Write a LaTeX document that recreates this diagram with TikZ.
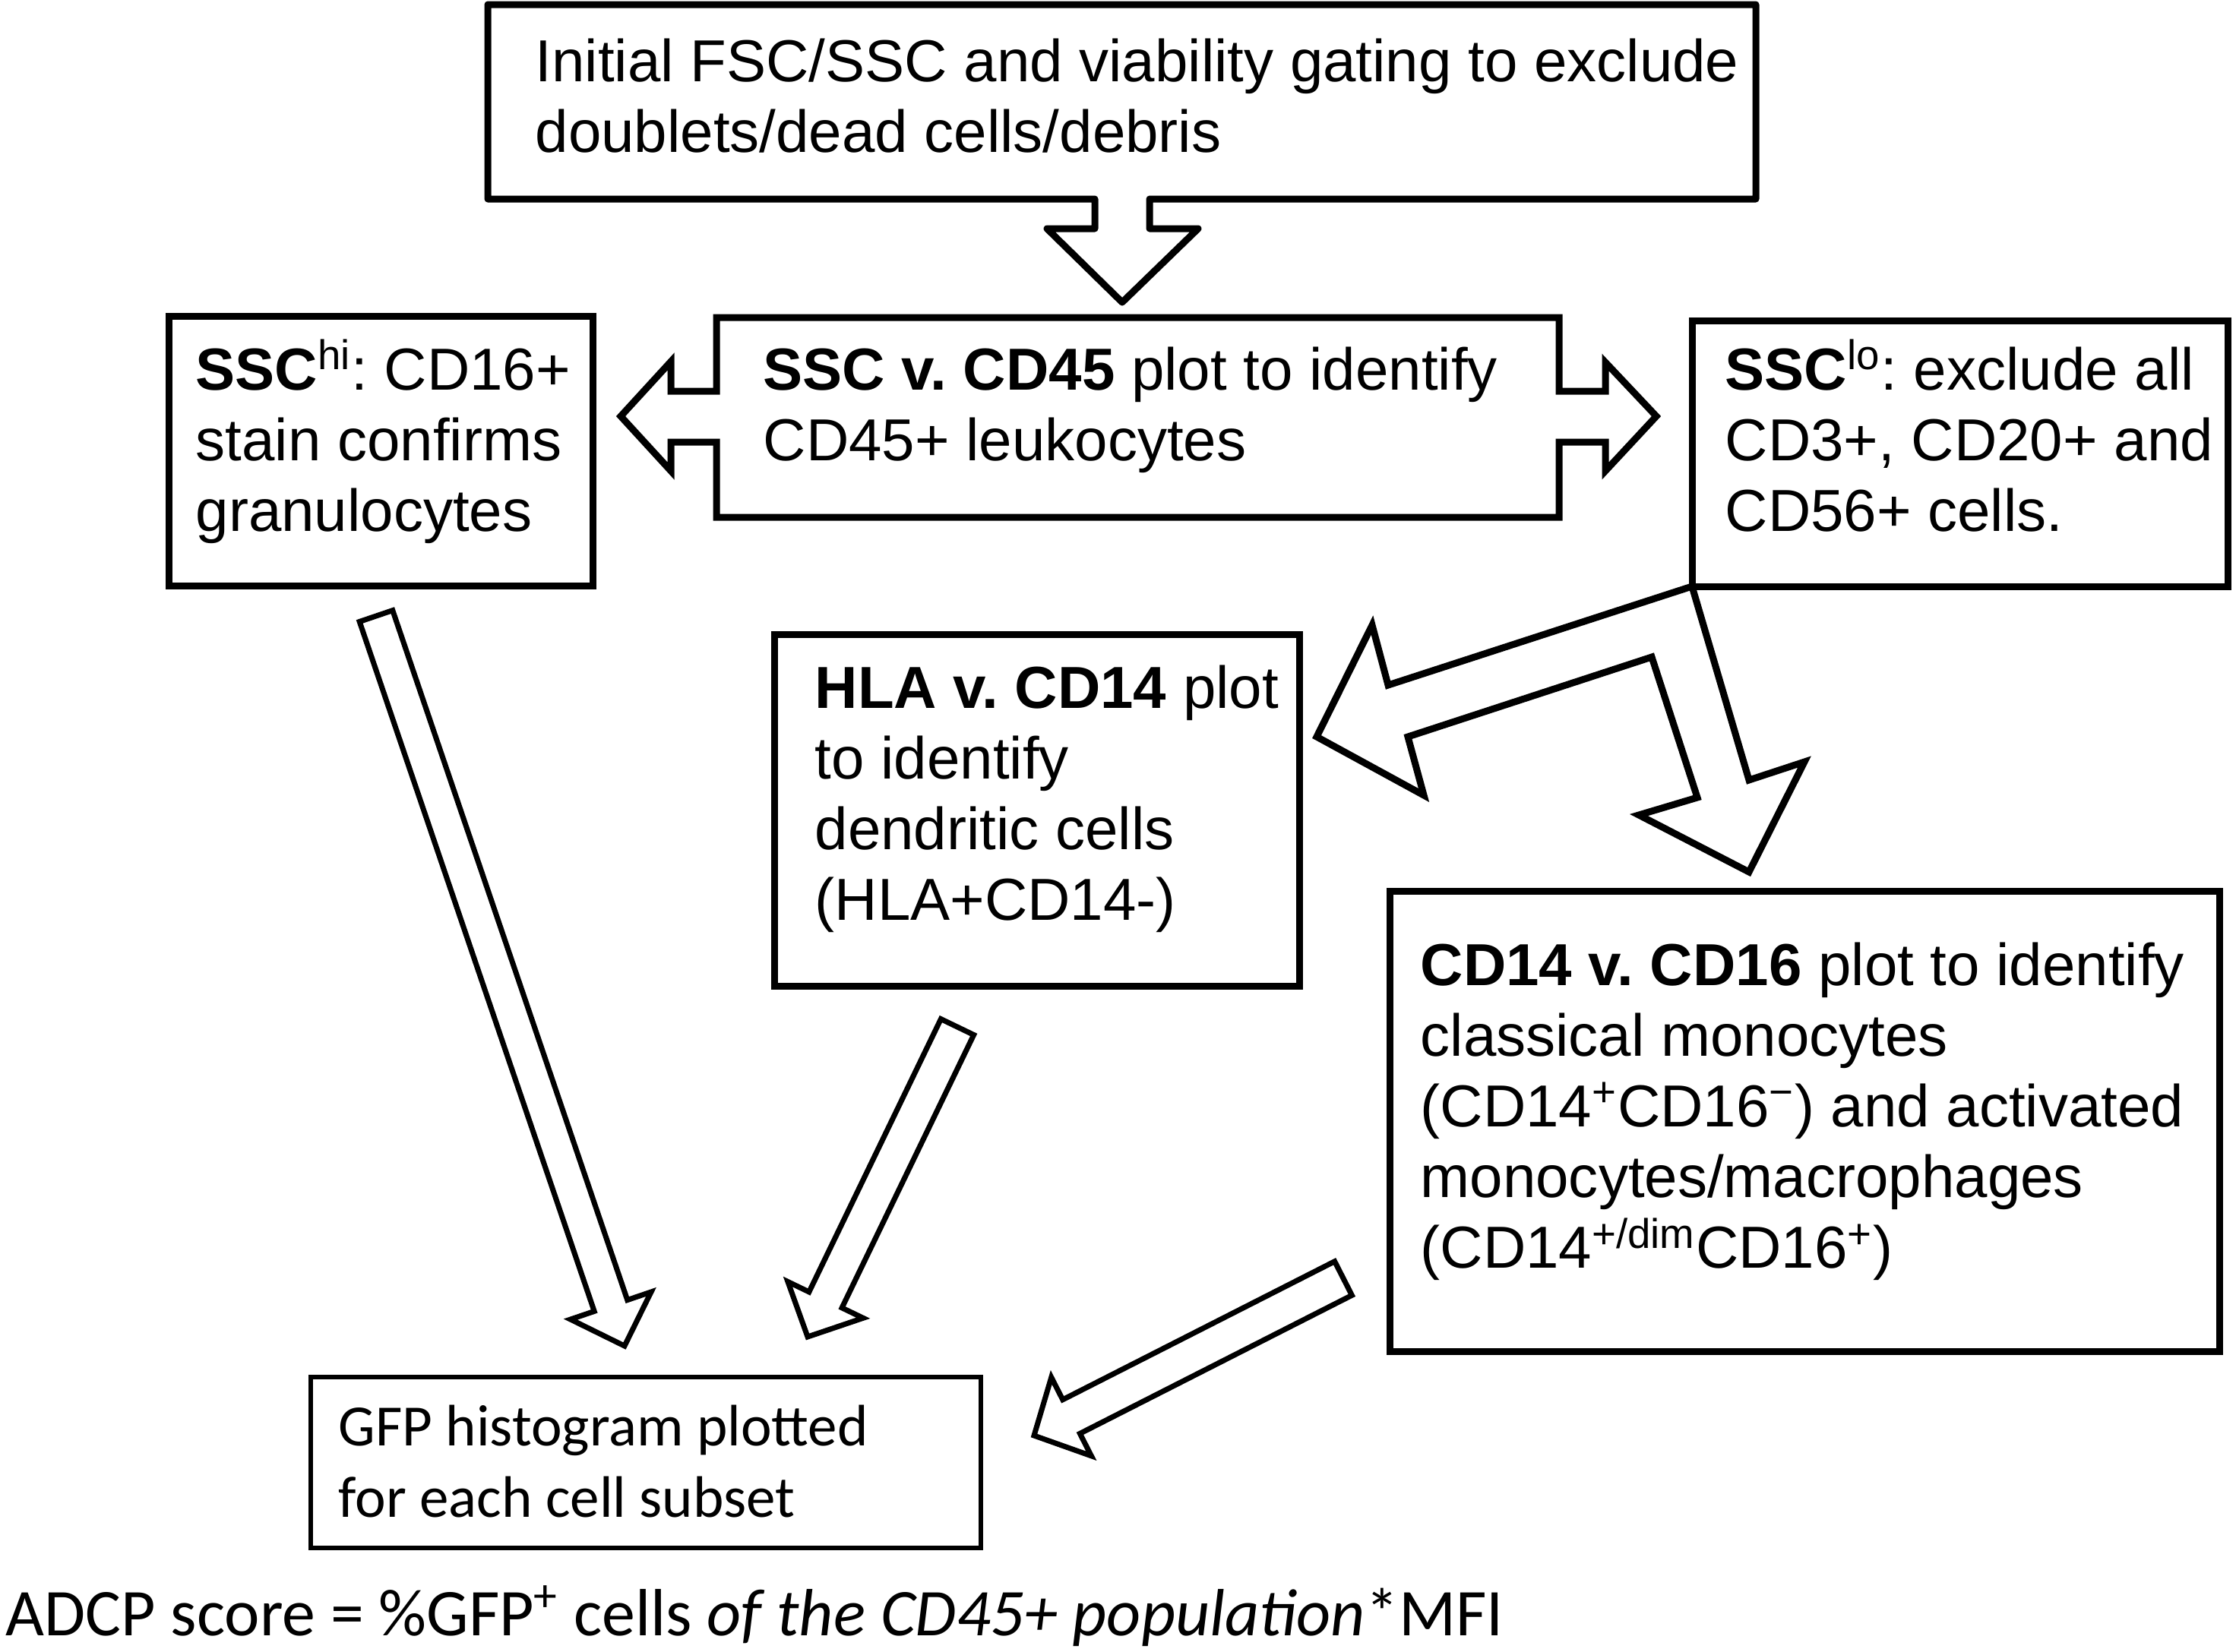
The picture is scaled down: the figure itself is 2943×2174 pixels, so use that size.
\documentclass[tikz,border=0pt]{standalone}
\usepackage{fontspec}
\setmainfont{Liberation Sans}
\newfontfamily\calfont{Carlito}
\usetikzlibrary{calc}
\frenchspacing
\newcommand\linesbox[1]{\parbox[t]{20cm}{#1}}
% name, tail, tip, shaft half-width, head half-width, head length
\newcommand\blockarrow[7][]{%
  \coordinate (#2h) at ($(#4)!#7!(#3)$);
  \draw[arrowshape,#1] ($(#3)!#5!90:(#4)$) -- ($(#2h)!#5!90:(#4)$) -- ($(#2h)!#6!90:(#4)$) -- (#4)
    -- ($(#2h)!#6!-90:(#4)$) -- ($(#2h)!#5!-90:(#4)$) -- ($(#3)!#5!-90:(#4)$) -- cycle;
}
\begin{document}
\begin{tikzpicture}[x=0.01cm,y=-0.01cm,
  boxline/.style={draw=black,line width=0.09cm,line join=round,fill=white},
  boxsharp/.style={draw=black,line width=0.09cm,line join=miter,fill=white},
  thinbox/.style={draw=black,line width=0.055cm,fill=white},
  arrowshape/.style={draw=black,line width=0.07cm,line join=miter,fill=white},
  txt/.style={anchor=base west,inner sep=0pt,font=\fontsize{22.2pt}{26.5pt}\selectfont},
  caltxt/.style={anchor=base west,inner sep=0pt,font=\calfont\fontsize{21.9pt}{27pt}\selectfont}]
\useasboundingbox (0,0) rectangle (2943,2174);
\fill[white] (0,0) rectangle (2943,2174);

% top box with down arrow
\draw[boxline] (642,6) -- (2311,6) -- (2311,262) -- (1513,262) -- (1513,301) -- (1577,301)
  -- (1477,398) -- (1378,301) -- (1441,301) -- (1441,262) -- (642,262) -- cycle;
\node[txt] (toptext) at (704,107) {\linesbox{Initial FSC/SSC and viability gating to exclude\\doublets/dead cells/debris}};

% centre box with double arrow
\draw[boxsharp] (943,418) -- (2052,418) -- (2052,515) -- (2113,515) -- (2113,477) -- (2180,548)
  -- (2113,620) -- (2113,582) -- (2052,582) -- (2052,681) -- (943,681) -- (943,582)
  -- (883,582) -- (883,620) -- (817,548) -- (883,476) -- (883,515) -- (943,515) -- cycle;
\node[txt] (centertext) at (1004,513) {\linesbox{\textbf{SSC v. CD45} plot to identify\\CD45+ leukocytes}};

% left box
\draw[boxsharp] (222,416) rectangle (780,771);
\node[txt] (lefttext) at (257,513) {\linesbox{\textbf{SSC}\textsuperscript{hi}: CD16+\\stain confirms\\granulocytes}};

% right box
\draw[boxsharp] (2227,422) rectangle (2932,772);
\node[txt] (righttext) at (2270,513) {\linesbox{\textbf{SSC}\textsuperscript{lo}: exclude all\\CD3+, CD20+ and\\CD56+ cells.}};

% bent double arrow
\draw[boxsharp] (2227,772) -- (1827,902) -- (1806,823) -- (1733,970) -- (1874,1047) -- (1853,970)
  -- (2174,865) -- (2234,1050) -- (2157,1073) -- (2302,1148) -- (2375,1003) -- (2302,1027) -- cycle;

% HLA box
\draw[boxsharp] (1019,835) rectangle (1710,1298);
\node[txt] (hlatext) at (1072,932) {\linesbox{\textbf{HLA v. CD14} plot\\to identify\\dendritic cells\\(HLA+CD14-)}};

% CD14 box
\draw[boxsharp] (1829,1173) rectangle (2921,1779);
\node[txt] (cdtext) at (1869,1297) {\linesbox{\textbf{CD14 v. CD16} plot to identify\\classical monocytes\\(CD14\textsuperscript{+}CD16\textsuperscript{−}) and activated\\monocytes/macrophages\\(CD14\textsuperscript{+/dim}CD16\textsuperscript{+})}};

% GFP box
\draw[thinbox] (409,1813) rectangle (1291,2038);
\node[caltxt] (gfptext) at (445,1903) {\linesbox{GFP histogram plotted\\for each cell subset}};

% three arrows into GFP box
\coordinate (a1t) at (495,811);  \coordinate (a1p) at (822,1772);
\coordinate (a2t) at (1260,1352); \coordinate (a2p) at (1063,1760);
\coordinate (a3t) at (1768,1683); \coordinate (a3p) at (1361,1890);
\blockarrow{a1}{a1t}{a1p}{0.23cm}{0.56cm}{0.56cm}
\blockarrow{a2}{a2t}{a2p}{0.24cm}{0.55cm}{0.54cm}
\blockarrow{a3}{a3t}{a3p}{0.25cm}{0.58cm}{0.55cm}

% score line
\node[anchor=base west,inner sep=0pt,font=\calfont\fontsize{25pt}{30pt}\selectfont] (score) at (7,2153)
  {ADCP score = \%GFP\textsuperscript{+} cells \textit{of the CD45+ population}*MFI};
\end{tikzpicture}
\end{document}
